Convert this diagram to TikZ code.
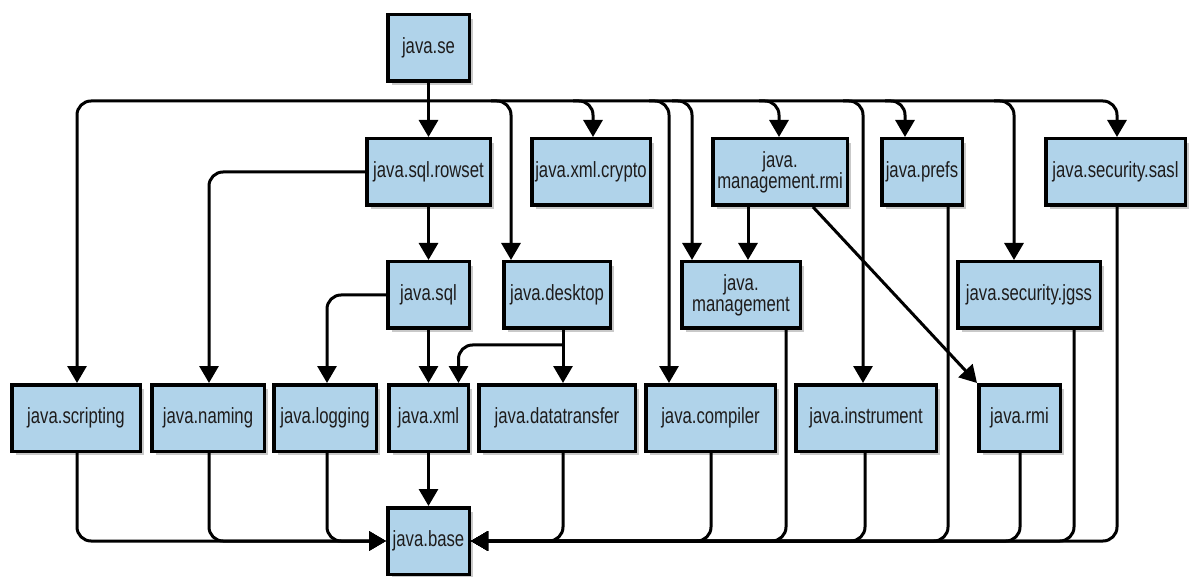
\documentclass[tikz,border=0pt]{standalone}
\usepackage{fontspec}
\setmainfont{Liberation Sans}[FakeStretch=0.76]
\usetikzlibrary{arrows.meta,shadows,calc}
\definecolor{boxfill}{RGB}{176,211,234}
\definecolor{ink}{RGB}{30,28,28}
\begin{document}
\begin{tikzpicture}[x=1pt,y=-1pt,
  box/.style={draw=black, line width=3.5pt, fill=boxfill, minimum height=66.5pt,
    inner sep=0pt, align=center, text=ink, font=\fontsize{22}{21}\selectfont,
    drop shadow={shadow xshift=4pt, shadow yshift=-4pt, opacity=0.3, fill=black!70}},
  conn/.style={line width=3pt, rounded corners=14pt},
  arr/.style={conn, -{Triangle[length=17pt,width=19pt]}}]
\useasboundingbox (0,0) rectangle (1189,577);
% nodes
\node[box, minimum width=81.5pt]  (se)       at (428.5,48)  {java.se};
\node[box, minimum width=123.5pt] (rowset)   at (428.5,172) {java.sql.rowset};
\node[box, minimum width=118.5pt] (crypto)   at (591,172)   {java.xml.crypto};
\node[box, minimum width=134.5pt] (mrmi)     at (780,172)   {java.\\management.rmi};
\node[box, minimum width=80.5pt]  (prefs)    at (922,172)   {java.prefs};
\node[box, minimum width=139.5pt] (sasl)     at (1115.5,172){java.security.sasl};
\node[box, minimum width=81.5pt]  (sql)      at (428.5,295) {java.sql};
\node[box, minimum width=106.5pt] (desktop)  at (557,295)   {java.desktop};
\node[box, minimum width=118.5pt] (mgmt)     at (741,295)   {java.\\management};
\node[box, minimum width=142.5pt] (jgss)     at (1029,295)  {java.security.jgss};
\node[box, minimum width=128.5pt] (scripting) at (76,418)   {java.scripting};
\node[box, minimum width=112.5pt] (naming)   at (208,418)   {java.naming};
\node[box, minimum width=102.5pt] (logging)  at (325,418)   {java.logging};
\node[box, minimum width=79.5pt]  (xml)      at (428.5,418) {java.xml};
\node[box, minimum width=156.5pt] (dt)       at (557,418)   {java.datatransfer};
\node[box, minimum width=129.5pt] (compiler) at (710.5,418) {java.compiler};
\node[box, minimum width=140.5pt] (instr)    at (866,418)   {java.instrument};
\node[box, minimum width=81.5pt]  (rmi)      at (1019.5,418){java.rmi};
\node[box, minimum width=81.5pt]  (base)     at (428.5,541) {java.base};
\coordinate (bus) at (428.5,101);
% top bus
\draw[arr] (se.south) -- (rowset.north);
\draw[arr] (bus) -| ($(scripting.north)+(1,0)$);
\draw[arr] (bus) -| ($(sasl.north)+(1.5,0)$);
\draw[arr] ($(desktop.north |- bus)+(-66,0)$) -| ($(desktop.north)+(-46,0)$);
\draw[arr] ($(crypto.north |- bus)+(-18,0)$) -| ($(crypto.north)+(2,0)$);
\draw[arr] ($(compiler.north |- bus)+(-61.5,0)$) -| ($(compiler.north)+(-41.5,0)$);
\draw[arr] ($(mgmt.north |- bus)+(-69,0)$) -| ($(mgmt.north)+(-49,0)$);
\draw[arr] ($(mrmi.north |- bus)+(-21,0)$) -| ($(mrmi.north)+(-1,0)$);
\draw[arr] ($(instr.north |- bus)+(-23,0)$) -| ($(instr.north)+(-3,0)$);
\draw[arr] ($(prefs.north |- bus)+(-37,0)$) -| ($(prefs.north)+(-17,0)$);
\draw[arr] ($(jgss.north |- bus)+(-35,0)$) -| ($(jgss.north)+(-15,0)$);
% inner connectors
\draw[arr] (rowset.west) -| ($(naming.north)+(1,0)$);
\draw[arr] (rowset.south) -- (sql.north);
\draw[arr] (sql.west) -| ($(logging.north)+(2,0)$);
\draw[arr] (sql.south) -- (xml.north);
\draw[arr] ($(desktop.south)+(6,0)$) -- ($(dt.north)+(6,0)$);
\draw[arr] ($(desktop.south)+(6,15)$) -| ($(xml.north)+(30,0)$);
\draw[arr] ($(mrmi.south)+(-32,0)$) -- ($(mgmt.north)+(7,0)$);
\draw[arr] ($(mrmi.south)+(33,0)$) -- (rmi.north west);
\draw[arr] (xml.south) -- (base.north);
% bottom bus
\draw[arr] ($(scripting.south)+(1,0)$) |- (base.west);
\draw[arr] ($(naming.south)+(1,0)$) |- (base.west);
\draw[arr] ($(logging.south)+(2,0)$) |- (base.west);
\draw[arr] ($(dt.south)+(6,0)$) |- (base.east);
\draw[arr] ($(compiler.south)+(0.5,0)$) |- (base.east);
\draw[arr] ($(mgmt.south)+(45,0)$) |- (base.east);
\draw[arr] ($(instr.south)+(-1,0)$) |- (base.east);
\draw[arr] ($(prefs.south)+(26,0)$) |- (base.east);
\draw[arr] ($(rmi.south)+(0.5,0)$) |- (base.east);
\draw[arr] ($(jgss.south)+(45,0)$) |- (base.east);
\draw[arr] ($(sasl.south)+(1.5,0)$) |- (base.east);
\end{tikzpicture}
\end{document}
